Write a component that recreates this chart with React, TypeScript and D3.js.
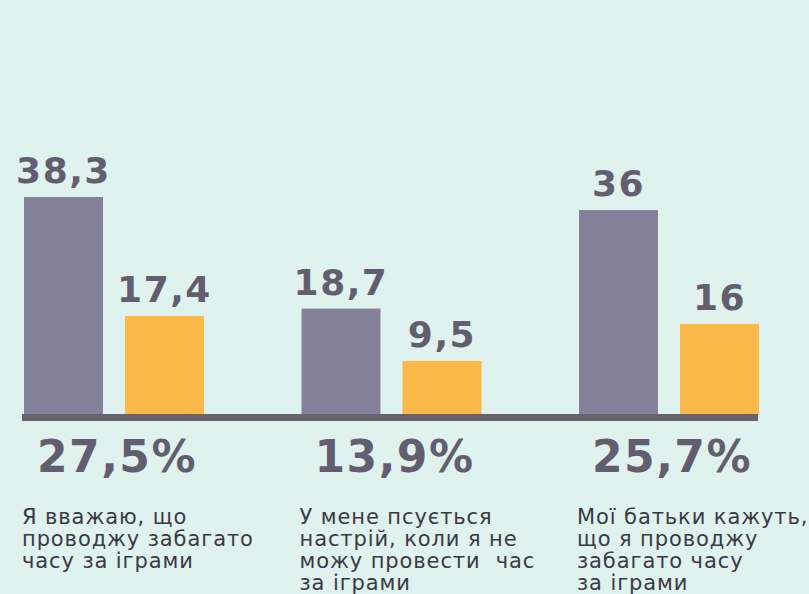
import React from 'react';
import * as d3 from 'd3';

// data
const categories = ['g1', 'g2', 'g3'];
const seriesKeys = ['all', 'girls'];
const allValues = [38.3, 18.7, 36];
const secondValues = [17.4, 9.5, 16];
const valueLabels = [['38,3', '17,4'], ['18,7', '9,5'], ['36', '16']];
const percentLabels = ['27,5%', '13,9%', '25,7%'];
const captions = [
    ['Я вважаю, що', 'проводжу забагато', 'часу за іграми'],
    ['У мене псується', 'настрій, коли я не', 'можу провести  час', 'за іграми'],
    ['Мої батьки кажуть,', 'що я проводжу', 'забагато часу', 'за іграми'],
];

const colors = ['#85819a', '#fdb84a'];
const textColor = '#625e70';

function App() {
    const width = 809, height = 594;

    const x0 = d3.scaleBand()
        .domain(categories)
        .range([24, 759])
        .paddingInner(97.5 / 277.5);

    const x1 = d3.scaleBand()
        .domain(seriesKeys)
        .range([0, x0.bandwidth()])
        .paddingInner(22 / 101);

    const y = d3.scaleLinear()
        .domain([0, 38.3])
        .range([415, 197]);

    const bars = categories.flatMap((c, i) => [allValues[i], secondValues[i]].map((v, j) => ({
        key: c + j, x: x0(c) + x1(seriesKeys[j]), v, label: valueLabels[i][j], color: colors[j]
    })));

    return (
        <svg width={width} height={height} style={{ position: 'absolute', left: 0, top: 0 }}>
            <rect width={width} height={height} fill="#dff2ed" />
            {bars.map(b => (
                <g key={b.key}>
                    <rect x={b.x} y={y(b.v)} width={x1.bandwidth()} height={y(0) - y(b.v)} fill={b.color} />
                    <text x={b.x + x1.bandwidth() / 2} y={y(b.v) - 14} textAnchor="middle"
                        fontFamily="'DejaVu Sans', sans-serif" fontWeight="bold" fontSize={36}
                        letterSpacing={1.5} fill={textColor}>{b.label}</text>
                </g>
            ))}
            <rect x={22} y={414} width={736} height={7} fill="#66636f" />
            {categories.map((c, i) => (
                <g key={c}>
                    <text x={x0(c) + x0.bandwidth() / 2 + 3} y={472} textAnchor="middle"
                        fontFamily="'DejaVu Sans', sans-serif" fontWeight="bold" fontSize={44}
                        letterSpacing={1.5} fill={textColor}>{percentLabels[i]}</text>
                    <text x={x0(c) - 2} y={524} fontFamily="'DejaVu Sans', sans-serif" fontSize={21}
                        letterSpacing={0.9} fill="#3b3946" style={{ whiteSpace: 'pre' }}>
                        {captions[i].map((line, k) => (
                            <tspan key={k} x={x0(c) - 2} dy={k === 0 ? 0 : 22}>{line}</tspan>
                        ))}
                    </text>
                </g>
            ))}
        </svg>
    );
}

export default App;
